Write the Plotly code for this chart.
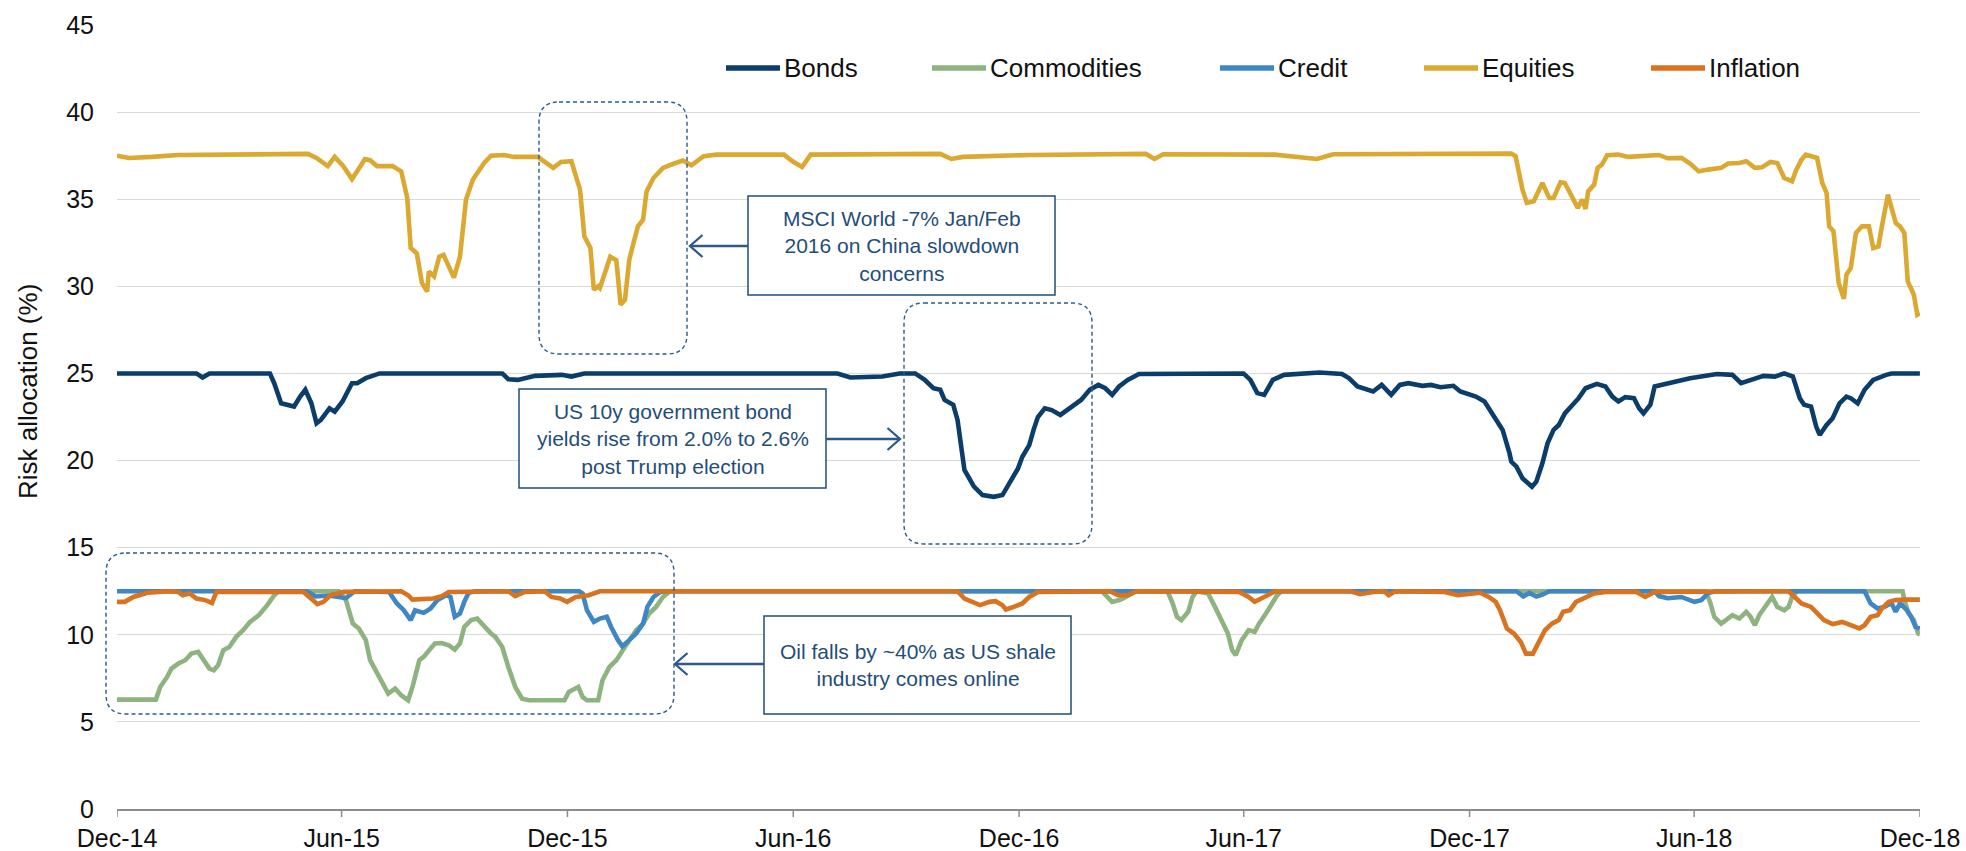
import pandas as pd
import plotly.graph_objects as go

# ---------------------------------------------------------------------------
# Risk allocation by asset class, weekly, Dec-2014 .. Dec-2018
# x values are weeks elapsed since 1 Dec 2014, y values are allocation in %
# ---------------------------------------------------------------------------
START = pd.Timestamp("2014-12-01")
END = pd.Timestamp("2018-12-01")

series_names = ["Bonds", "Commodities", "Credit", "Equities", "Inflation"]
series_colors = ["#0b3d6b", "#8db37f", "#3f86c4", "#dba832", "#d9731f"]

bonds_weeks = [0, 9.2, 9.9, 10.7, 17.7, 18.2, 19.0, 20.5, 21.2, 21.8, 22.5, 23.1, 23.6, 24.6, 25.2, 26.1,
               27.2, 27.8, 28.8, 30.4, 44.6, 45.3, 46.4, 48.4, 51.5, 52.6, 54.1, 83.4, 84.9, 88.6, 90.6,
               92.4, 93.5, 94.5, 95.3, 95.8, 96.8, 97.3, 98.1, 99.2, 100.2, 101.5, 102.5, 103.3, 104.3,
               104.8, 105.6, 106.1, 106.6, 107.4, 108.2, 109.2, 110.3, 111.6, 112.6, 113.6, 114.4, 115.2,
               116.0, 117.0, 118.3, 130.4, 131.2, 132.0, 132.8, 133.8, 135.1, 139.2, 141.8, 142.6, 143.6,
               145.4, 146.4, 147.5, 148.5, 149.5, 151.1, 152.1, 153.2, 154.7, 155.5, 157.3, 158.3, 158.8,
               159.6, 160.4, 161.2, 161.4, 162.0, 162.7, 163.8, 164.3, 165.0, 165.6, 166.3, 166.9, 167.6,
               168.4, 169.2, 170.0, 171.3, 172.3, 173.1, 173.8, 174.6, 175.6, 176.2, 176.7, 177.5, 178.0,
               179.5, 182.1, 185.2, 187.0, 188.0, 189.9, 190.6, 191.9, 193.0, 194.0, 194.8, 195.3, 196.1,
               196.7, 197.1, 197.9, 198.6, 199.4, 200.2, 200.7, 201.5, 202.3, 203.3, 204.8, 205.4, 208.7]
bonds_vals = [25.0, 25.0, 24.77, 25.0, 25.0, 24.44, 23.29, 23.1, 23.67, 24.06, 23.29, 22.14, 22.33, 23.0,
              22.81, 23.39, 24.44, 24.44, 24.73, 25.0, 25.0, 24.67, 24.63, 24.86, 24.92, 24.82, 25.0, 25.0,
              24.77, 24.82, 25.0, 25.0, 24.63, 24.15, 24.06, 23.48, 23.2, 22.33, 19.46, 18.5, 18.02, 17.92,
              18.02, 18.69, 19.55, 20.22, 20.89, 21.76, 22.5, 23.0, 22.9, 22.62, 23.0, 23.48, 24.06, 24.34,
              24.15, 23.77, 24.25, 24.63, 24.97, 25.0, 24.63, 23.87, 23.77, 24.63, 24.92, 25.05, 24.97,
              24.73, 24.25, 23.96, 24.34, 23.77, 24.34, 24.44, 24.29, 24.34, 24.21, 24.29, 23.96, 23.67,
              23.39, 23.0, 22.33, 21.76, 20.41, 19.94, 19.65, 18.98, 18.5, 18.79, 19.84, 20.99, 21.76,
              22.04, 22.71, 23.1, 23.58, 24.15, 24.4, 24.25, 23.67, 23.39, 23.64, 23.58, 23.0, 22.71, 23.2,
              24.25, 24.44, 24.73, 24.97, 24.92, 24.44, 24.73, 24.86, 24.82, 25.0, 24.82, 23.58, 23.2, 23.1,
              21.95, 21.47, 22.04, 22.43, 23.29, 23.67, 23.58, 23.29, 24.06, 24.63, 24.92, 25.0, 25.0]

commod_weeks = [0, 4.5, 5.0, 5.8, 6.3, 7.1, 7.9, 8.6, 9.4, 9.9, 10.7, 11.2, 11.7, 12.3, 13.0, 13.8, 14.6,
                15.4, 16.4, 17.4, 18.2, 18.7, 25.7, 26.5, 27.3, 28.0, 28.8, 29.3, 30.1, 30.9, 31.4, 32.2,
                32.9, 33.7, 34.2, 35.0, 35.5, 36.3, 36.8, 37.6, 38.4, 39.1, 39.7, 40.2, 41.0, 41.7, 42.5,
                43.3, 43.8, 44.6, 45.3, 46.1, 46.9, 47.7, 51.8, 52.3, 53.4, 53.9, 54.4, 55.7, 56.2, 57.0,
                57.8, 58.5, 59.3, 60.1, 60.9, 61.6, 62.4, 63.2, 64.0, 114.0, 114.4, 115.2, 116.2, 117.2,
                118.0, 121.6, 122.2, 122.7, 123.2, 124.0, 124.5, 125.0, 126.3, 127.1, 127.8, 128.6, 129.1,
                129.5, 130.2, 131.0, 131.7, 132.2, 133.0, 133.8, 134.3, 134.8, 183.9, 184.4, 184.9, 185.7,
                186.5, 187.0, 187.8, 188.6, 189.1, 189.6, 190.1, 190.9, 191.6, 192.2, 193.0, 193.5, 193.9,
                194.5, 206.7, 206.9, 207.4, 208.0, 208.5, 208.7]
commod_vals = [6.28, 6.28, 7.0, 7.58, 8.06, 8.35, 8.54, 8.92, 9.02, 8.63, 8.06, 7.96, 8.25, 9.11, 9.3,
               9.88, 10.26, 10.74, 11.12, 11.7, 12.27, 12.5, 12.5, 11.99, 10.64, 10.36, 9.69, 8.54, 7.77,
               7.0, 6.62, 6.91, 6.53, 6.24, 7.0, 8.54, 8.73, 9.21, 9.5, 9.53, 9.4, 9.15, 9.5, 10.45, 10.84,
               10.93, 10.45, 10.07, 9.88, 9.3, 8.15, 7.0, 6.33, 6.24, 6.24, 6.72, 7.0, 6.43, 6.24, 6.24,
               7.39, 8.15, 8.54, 9.11, 9.69, 10.26, 10.64, 11.22, 11.6, 12.17, 12.5, 12.5, 12.27, 11.89,
               12.02, 12.27, 12.5, 12.5, 11.8, 11.03, 10.84, 11.32, 12.17, 12.5, 12.37, 11.6, 10.84, 10.07,
               9.11, 8.83, 9.69, 10.26, 10.17, 10.64, 11.22, 11.8, 12.27, 12.5, 12.5, 11.89, 11.03, 10.64,
               10.93, 11.12, 10.93, 11.32, 11.03, 10.55, 11.12, 11.7, 12.17, 11.6, 11.41, 11.6, 12.17, 12.5,
               12.5, 11.99, 11.22, 10.84, 10.07, 10.03]

credit_weeks = [0, 22.0, 23.0, 24.5, 26.5, 27.5, 31.5, 32.4, 33.2, 34.0, 34.5, 35.5, 36.3, 37.1, 38.1,
                38.6, 39.1, 39.7, 40.2, 40.7, 41.5, 53.5, 53.9, 54.4, 55.2, 55.9, 56.7, 57.2, 58.0, 58.5,
                59.3, 60.1, 60.9, 61.4, 62.1, 62.9, 63.5, 162.0, 162.8, 163.5, 164.3, 165.0, 165.8, 178.0,
                178.5, 179.5, 181.1, 182.6, 183.4, 184.2, 185.0, 202.3, 203.0, 203.8, 204.6, 205.4, 205.9,
                206.4, 207.2, 207.7, 208.2, 208.7]
credit_vals = [12.5, 12.5, 12.2, 12.25, 12.1, 12.5, 12.46, 11.8, 11.41, 10.84, 11.41, 11.26, 11.51, 11.99,
               12.27, 12.17, 11.03, 11.22, 11.89, 12.41, 12.5, 12.5, 12.37, 11.41, 10.74, 10.93, 11.03,
               10.45, 9.69, 9.34, 9.69, 10.07, 10.64, 11.6, 12.17, 12.46, 12.5, 12.5, 12.2, 12.4, 12.2,
               12.3, 12.5, 12.5, 12.22, 12.1, 12.17, 11.89, 11.99, 12.4, 12.5, 12.5, 11.8, 11.51, 11.6,
               11.83, 11.32, 11.8, 11.41, 11.03, 10.45, 10.36]

equity_weeks = [0, 1.4, 4.0, 7.1, 22.1, 23.1, 24.4, 25.2, 26.2, 27.2, 27.8, 28.7, 29.3, 30.1, 31.9, 32.9,
                33.6, 34.0, 34.7, 35.3, 35.9, 36.1, 36.7, 37.3, 37.8, 38.4, 39.0, 39.7, 40.4, 41.2, 42.5,
                43.3, 44.8, 45.9, 48.7, 50.5, 51.4, 52.6, 53.6, 54.1, 54.8, 55.2, 55.7, 55.9, 56.7, 57.1,
                57.8, 58.3, 58.8, 59.3, 59.8, 60.3, 60.9, 61.3, 62.1, 63.2, 64.5, 65.5, 66.5, 67.9, 69.4,
                77.2, 78.2, 79.3, 80.3, 95.3, 96.6, 97.9, 105.6, 119.1, 120.1, 121.1, 134.0, 135.6, 138.9,
                140.8, 161.4, 161.9, 162.5, 162.7, 163.2, 164.0, 165.0, 165.8, 166.3, 167.1, 167.6, 168.4,
                169.1, 169.6, 170.0, 170.3, 171.0, 171.4, 171.9, 172.5, 173.8, 174.9, 178.5, 179.5, 181.1,
                182.1, 183.1, 184.2, 185.7, 186.5, 187.8, 188.6, 189.6, 190.4, 191.4, 192.2, 193.0, 193.9,
                194.4, 195.0, 195.5, 196.8, 197.4, 197.9, 198.2, 198.7, 199.3, 199.9, 200.2, 200.7, 201.3,
                202.0, 202.8, 203.3, 203.9, 204.3, 205.0, 205.9, 206.4, 206.9, 207.3, 208.0, 208.4, 208.7]
equity_vals = [37.5, 37.37, 37.43, 37.54, 37.6, 37.37, 36.9, 37.43, 36.9, 36.16, 36.6, 37.3, 37.24, 36.9,
               36.9, 36.6, 35.07, 32.2, 31.9, 30.2, 29.7, 30.86, 30.57, 31.7, 31.8, 31.15, 30.5, 31.7,
               34.98, 36.13, 37.08, 37.5, 37.54, 37.43, 37.43, 36.8, 37.14, 37.18, 35.55, 32.87, 32.2,
               29.8, 30.0, 29.9, 31.15, 31.7, 31.5, 28.94, 29.23, 31.53, 32.5, 33.44, 33.83, 35.45, 36.22,
               36.8, 37.05, 37.22, 36.95, 37.47, 37.56, 37.56, 37.18, 36.85, 37.56, 37.6, 37.31, 37.43,
               37.54, 37.6, 37.31, 37.58, 37.56, 37.47, 37.31, 37.58, 37.62, 37.47, 36.03, 35.55, 34.79,
               34.88, 35.93, 35.07, 35.07, 35.97, 35.93, 35.17, 34.5, 34.98, 34.44, 35.45, 35.84, 36.8,
               36.99, 37.52, 37.56, 37.43, 37.54, 37.35, 37.37, 37.05, 36.6, 36.7, 36.8, 37.05, 37.08,
               37.18, 36.8, 36.83, 37.14, 37.08, 36.22, 36.03, 36.7, 37.27, 37.56, 37.37, 35.93, 35.36,
               33.44, 33.16, 30.19, 29.29, 30.67, 31.05, 33.06, 33.44, 33.44, 32.2, 32.29, 33.44, 35.26,
               33.64, 33.44, 33.06, 30.28, 29.52, 28.37, 28.46]

infl_weeks = [0, 0.9, 1.9, 3.5, 6.1, 7.1, 7.6, 8.4, 9.2, 10.2, 11.0, 11.5, 21.6, 22.3, 23.2, 23.9, 24.7,
              26.2, 32.9, 33.7, 34.2, 36.6, 37.6, 38.4, 45.3, 46.1, 47.2, 49.5, 50.3, 51.3, 52.1, 53.1,
              54.6, 55.9, 97.3, 98.1, 99.2, 99.9, 101.0, 101.7, 102.5, 102.9, 103.8, 104.8, 105.6, 106.6,
              114.9, 115.9, 117.0, 118.0, 129.9, 131.0, 131.7, 132.8, 134.1, 142.8, 143.9, 145.4, 146.7,
              147.2, 148.0, 153.7, 155.2, 157.8, 158.8, 159.6, 160.1, 160.9, 161.7, 162.5, 163.1, 163.9,
              164.5, 165.3, 166.1, 166.9, 167.4, 168.2, 168.9, 170.0, 171.0, 172.3, 175.9, 176.9, 178.0,
              193.5, 194.3, 195.0, 196.1, 196.8, 197.6, 198.6, 199.7, 200.7, 201.7, 202.3, 203.0, 203.8,
              204.3, 205.1, 205.9, 206.9, 208.0, 208.7]
infl_vals = [11.89, 11.89, 12.17, 12.41, 12.5, 12.46, 12.27, 12.37, 12.08, 11.99, 11.83, 12.46, 12.46,
             12.17, 11.76, 11.89, 12.27, 12.46, 12.5, 12.27, 12.02, 12.08, 12.22, 12.46, 12.5, 12.22, 12.46,
             12.5, 12.17, 12.08, 11.89, 12.17, 12.27, 12.5, 12.5, 12.08, 11.83, 11.7, 11.89, 11.93, 11.7,
             11.45, 11.6, 11.8, 12.17, 12.46, 12.5, 12.27, 12.27, 12.5, 12.46, 12.17, 11.89, 12.17, 12.5,
             12.5, 12.33, 12.46, 12.5, 12.27, 12.5, 12.46, 12.27, 12.41, 12.17, 11.89, 11.41, 10.36, 10.07,
             9.59, 8.92, 8.92, 9.5, 10.26, 10.64, 10.84, 11.32, 11.41, 11.89, 12.17, 12.37, 12.46, 12.46,
             12.17, 12.46, 12.5, 12.17, 11.8, 11.6, 11.22, 10.84, 10.61, 10.74, 10.55, 10.36, 10.55, 11.03,
             11.12, 11.51, 11.89, 11.99, 12.02, 11.99, 12.02]

tick_dates = pd.date_range(START, END, freq="6MS")
y_ticks = list(range(0, 50, 5))

annotation_texts = [
    "MSCI World -7% Jan/Feb<br>2016 on China slowdown<br>concerns",
    "US 10y government bond<br>yields rise from 2.0% to 2.6%<br>post Trump election",
    "Oil falls by ~40% as US shale<br>industry comes online",
]


def to_dates(weeks):
    return [START + pd.Timedelta(days=7 * w) for w in weeks]


# ---------------------------------------------------------------------------
# page geometry (pixels) and helpers for paper-referenced decorations
# ---------------------------------------------------------------------------
W, H = 1966, 851
MARGIN = dict(l=117, r=46, t=25, b=42)
PW = W - MARGIN["l"] - MARGIN["r"]
PH = H - MARGIN["t"] - MARGIN["b"]
FONT = "Liberation Sans, Arial, sans-serif"
NOTE_BLUE = "#1f4e79"
ARROW_BLUE = "#2d5a88"
AXIS_GREY = "#8c8c8c"
TICK_LEN = 8


def fx(x):
    return (x - MARGIN["l"]) / PW


def fy(y):
    return (H - MARGIN["b"] - y) / PH


def rounded_box(x0, y0, x1, y1, r):
    L, R, T, B = fx(x0), fx(x1), fy(y0), fy(y1)
    rx, ry = r / PW, r / PH
    return (f"M{L + rx},{T} L{R - rx},{T} Q{R},{T} {R},{T - ry} L{R},{B + ry} "
            f"Q{R},{B} {R - rx},{B} L{L + rx},{B} Q{L},{B} {L},{B + ry} "
            f"L{L},{T - ry} Q{L},{T} {L + rx},{T} Z")


fig = go.Figure()

all_weeks = [bonds_weeks, commod_weeks, credit_weeks, equity_weeks, infl_weeks]
all_vals = [bonds_vals, commod_vals, credit_vals, equity_vals, infl_vals]
for name, color, wk, vals in zip(series_names, series_colors, all_weeks, all_vals):
    fig.add_trace(go.Scatter(
        x=to_dates(wk), y=vals, name=name, mode="lines",
        line=dict(color=color, width=4.6), showlegend=False,
    ))

shapes = []
annotations = []

# outward tick marks under the date axis
for d in tick_dates:
    shapes.append(dict(type="line", xref="x", yref="paper", x0=d, x1=d,
                       y0=0, y1=-TICK_LEN / PH, line=dict(color=AXIS_GREY, width=1.5)))

# legend row (line sample + label) drawn across the top of the plot
legend_line_x = [(726, 780), (932, 986), (1220, 1274), (1424, 1478), (1651, 1705)]
legend_y = 68
for (x0, x1), name, color in zip(legend_line_x, series_names, series_colors):
    shapes.append(dict(type="line", xref="paper", yref="paper",
                       x0=fx(x0), x1=fx(x1), y0=fy(legend_y), y1=fy(legend_y),
                       line=dict(color=color, width=5.5)))
    annotations.append(dict(xref="paper", yref="paper", x=fx(x1 + 2), y=fy(legend_y),
                            xanchor="left", yanchor="middle", text=name, showarrow=False,
                            font=dict(family=FONT, size=26, color="#111111")))

# dashed highlight regions
for x0, y0, x1, y1 in [(539, 102, 687, 354), (904, 303, 1092, 544), (106, 553, 674, 714)]:
    shapes.append(dict(type="path", xref="paper", yref="paper",
                       path=rounded_box(x0, y0, x1, y1, 20),
                       line=dict(color=ARROW_BLUE, width=1.4, dash="4px,3px")))

# note boxes with their text
note_boxes = [(748, 196, 1055, 295), (519, 389, 826, 488), (764, 616, 1071, 714)]
for (x0, y0, x1, y1), txt in zip(note_boxes, annotation_texts):
    shapes.append(dict(type="rect", xref="paper", yref="paper",
                       x0=fx(x0), x1=fx(x1), y0=fy(y1), y1=fy(y0),
                       fillcolor="white", line=dict(color=NOTE_BLUE, width=1.5)))
    annotations.append(dict(xref="paper", yref="paper", x=fx((x0 + x1) / 2), y=fy((y0 + y1) / 2),
                            xanchor="center", yanchor="middle", text=txt, showarrow=False,
                            align="center",
                            font=dict(family=FONT, size=21, color=NOTE_BLUE)))

# arrows from note boxes to highlighted regions (shaft + open head)
arrows = [(748, 690, 246), (826, 900, 439), (764, 675, 664)]
for xs, xe, ya in arrows:
    shapes.append(dict(type="line", xref="paper", yref="paper",
                       x0=fx(xs), x1=fx(xe), y0=fy(ya), y1=fy(ya),
                       line=dict(color=ARROW_BLUE, width=2.3)))
    d = 12.5 if xe < xs else -12.5
    shapes.append(dict(type="path", xref="paper", yref="paper",
                       path=(f"M{fx(xe + d)},{fy(ya - 11)} L{fx(xe)},{fy(ya)} "
                             f"L{fx(xe + d)},{fy(ya + 11)}"),
                       line=dict(color=ARROW_BLUE, width=2.3)))

# y-axis title
annotations.append(dict(xref="paper", yref="paper", x=fx(28), y=fy(392),
                        xanchor="center", yanchor="middle", textangle=-90,
                        text="Risk allocation (%)", showarrow=False,
                        font=dict(family=FONT, size=26, color="#111111")))

fig.update_layout(
    width=W, height=H,
    margin=dict(MARGIN, pad=0, autoexpand=False),
    paper_bgcolor="white", plot_bgcolor="white",
    font=dict(family=FONT, size=25, color="#111111"),
    shapes=shapes, annotations=annotations,
    showlegend=False,
)
fig.update_xaxes(
    type="date", range=[START, END],
    tickvals=tick_dates, tickformat="%b-%y",
    showgrid=False, zeroline=False,
    showline=True, linecolor=AXIS_GREY, linewidth=2,
    ticks="", ticklabelstandoff=6,
    tickfont=dict(family=FONT, size=25, color="#111111"),
)
fig.update_yaxes(
    range=[0, 45], tickvals=y_ticks,
    showgrid=True, gridcolor="#d9d9d9", gridwidth=1.3,
    zeroline=False, showline=False, ticks="",
    ticklabelstandoff=22,
    tickfont=dict(family=FONT, size=25, color="#111111"),
)

fig.write_html("out.html")
